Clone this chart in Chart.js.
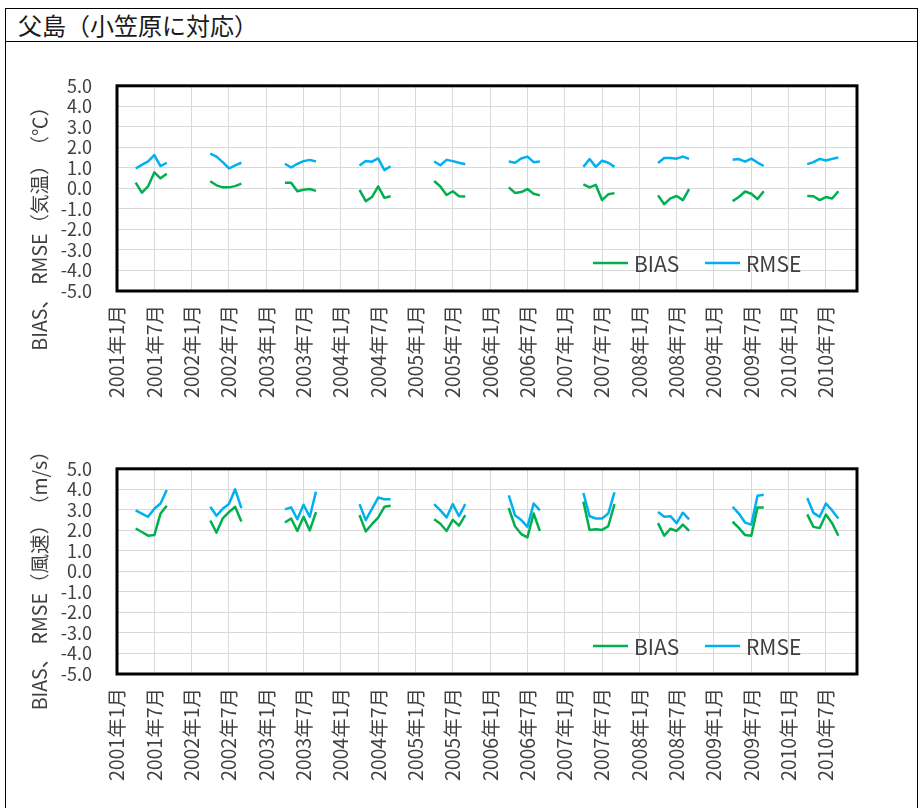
<!DOCTYPE html>
<html lang="ja">
<head>
<meta charset="utf-8">
<title>父島（小笠原に対応）</title>
<script src="https://cdn.jsdelivr.net/npm/chart.js@4.4.1/dist/chart.umd.min.js"></script>
<style>
  html, body { margin: 0; padding: 0; background: #fff; }
  body { width: 920px; height: 808px; position: relative; overflow: hidden; font-family: "Noto Sans CJK JP", sans-serif; }
  #frame { position: absolute; left: 5px; top: 8px; width: 913px; height: 840px; border: 1.5px solid #000; box-sizing: border-box; }
  #title { position: absolute; left: 5px; top: 8px; width: 913px; height: 34px; border-bottom: 1.5px solid #000; box-sizing: border-box;
           padding-left: 13px; font-size: 24px; line-height: 34px; color: #1a1a1a; }
  .panel { position: absolute; left: 0; }
  #p1 { top: 50px; }
  #p2 { top: 433px; }
</style>
</head>
<body>
<div id="frame"></div>
<div id="title">父島（小笠原に対応）</div>
<div class="panel" id="p1"><canvas id="c1" width="920" height="375"></canvas></div>
<div class="panel" id="p2"><canvas id="c2" width="920" height="375"></canvas></div>

<script>
// 各年とも4月〜9月の月別値
const years = [2001, 2002, 2003, 2004, 2005, 2006, 2007, 2008, 2009, 2010];
const months = [1, 2, 3, 4, 5, 6, 7, 8, 9, 10, 11, 12];
const dataMonths = [4, 5, 6, 7, 8, 9];
const yTicks = [-5, -4, -3, -2, -1, 0, 1, 2, 3, 4, 5];

// 気温
const tempBias = [
    [0.28, -0.21, 0.10, 0.78, 0.49, 0.71],
    [0.35, 0.15, 0.05, 0.05, 0.11, 0.23],
    [0.28, 0.28, -0.14, -0.07, -0.03, -0.12],
    [-0.07, -0.62, -0.42, 0.10, -0.46, -0.38],
    [0.36, 0.09, -0.32, -0.14, -0.38, -0.39],
    [0.05, -0.22, -0.18, -0.03, -0.26, -0.34],
    [0.20, 0.05, 0.17, -0.57, -0.29, -0.23],
    [-0.34, -0.77, -0.49, -0.37, -0.57, -0.03],
    [-0.62, -0.42, -0.15, -0.26, -0.52, -0.14],
    [-0.37, -0.38, -0.57, -0.42, -0.49, -0.14]
];
const tempRmse = [
    [0.97, 1.15, 1.32, 1.62, 1.09, 1.25],
    [1.69, 1.55, 1.28, 0.97, 1.12, 1.25],
    [1.20, 1.02, 1.20, 1.33, 1.39, 1.31],
    [1.12, 1.34, 1.30, 1.46, 0.89, 1.08],
    [1.31, 1.13, 1.39, 1.33, 1.25, 1.18],
    [1.31, 1.25, 1.46, 1.55, 1.28, 1.31],
    [1.05, 1.43, 1.05, 1.35, 1.25, 1.05],
    [1.24, 1.48, 1.48, 1.45, 1.55, 1.44],
    [1.40, 1.43, 1.30, 1.45, 1.26, 1.09],
    [1.18, 1.28, 1.44, 1.36, 1.44, 1.51]
];

// 風速
const windBias = [
    [2.09, 1.92, 1.74, 1.77, 2.82, 3.20],
    [2.48, 1.89, 2.58, 2.89, 3.15, 2.43],
    [2.38, 2.58, 1.97, 2.66, 2.00, 2.89],
    [2.74, 1.95, 2.30, 2.62, 3.15, 3.20],
    [2.54, 2.32, 1.97, 2.51, 2.23, 2.74],
    [3.09, 2.20, 1.82, 1.66, 2.82, 1.97],
    [3.40, 2.02, 2.05, 2.02, 2.20, 3.28],
    [2.35, 1.74, 2.08, 1.97, 2.28, 1.97],
    [2.42, 2.12, 1.77, 1.74, 3.12, 3.12],
    [2.78, 2.17, 2.11, 2.77, 2.35, 1.74]
];
const windRmse = [
    [2.97, 2.82, 2.66, 3.05, 3.31, 3.97],
    [3.15, 2.71, 3.05, 3.28, 4.00, 3.08],
    [3.02, 3.12, 2.54, 3.25, 2.66, 3.89],
    [3.28, 2.50, 3.05, 3.60, 3.52, 3.52],
    [3.28, 2.97, 2.63, 3.28, 2.69, 3.28],
    [3.71, 2.74, 2.51, 2.17, 3.31, 2.97],
    [3.82, 2.69, 2.58, 2.58, 2.82, 3.85],
    [2.89, 2.66, 2.69, 2.35, 2.86, 2.54],
    [3.15, 2.82, 2.38, 2.28, 3.69, 3.74],
    [3.58, 2.85, 2.66, 3.31, 2.97, 2.58]
];

const labels = [];
years.forEach(y => months.forEach(m => labels.push(y + '年' + m + '月')));

// 月別の配列に展開（データの無い月は null）
function toSeries(perYear) {
    const out = [];
    years.forEach((y, i) => months.forEach(m => {
        const k = dataMonths.indexOf(m);
        out.push(k < 0 ? null : perYear[i][k]);
    }));
    return out;
}

const FONT = '"Noto Sans CJK JP", "Noto Sans", sans-serif';
const TEXT = '#404040';

const plotFrame = {
    id: 'plotFrame',
    afterDraw(chart) {
        const a = chart.chartArea, ctx = chart.ctx;
        ctx.save();
        ctx.strokeStyle = '#000';
        ctx.lineWidth = 3;
        ctx.strokeRect(a.left, a.top, a.right - a.left, a.bottom - a.top);
        ctx.restore();
    }
};

const yTitle = {
    id: 'yTitle',
    afterDraw(chart, args, opts) {
        const ctx = chart.ctx;
        ctx.save();
        ctx.translate(40, chart.chartArea.top + opts.offset);
        ctx.rotate(-Math.PI / 2);
        ctx.font = '19.5px ' + FONT;
        ctx.fillStyle = TEXT;
        ctx.textAlign = 'center';
        ctx.textBaseline = 'middle';
        ctx.fillText(opts.text, 0, 0);
        ctx.restore();
    }
};

const innerLegend = {
    id: 'innerLegend',
    afterDraw(chart) {
        const a = chart.chartArea, ctx = chart.ctx;
        const y = a.bottom - 28;
        const starts = [a.right - 264, a.right - 152];
        ctx.save();
        ctx.font = '21px ' + FONT;
        ctx.textBaseline = 'middle';
        chart.data.datasets.forEach((ds, i) => {
            const x = starts[i];
            ctx.strokeStyle = ds.borderColor;
            ctx.lineWidth = 2.5;
            ctx.beginPath();
            ctx.moveTo(x, y);
            ctx.lineTo(x + 35, y);
            ctx.stroke();
            ctx.fillStyle = TEXT;
            ctx.fillText(ds.label, x + 41, y + 1);
        });
        ctx.restore();
    }
};

function makeChart(id, bias, rmse, title, offset) {
    return new Chart(document.getElementById(id), {
        type: 'line',
        data: {
            labels: labels,
            datasets: [
                { label: 'BIAS', data: toSeries(bias), borderColor: '#00B050' },
                { label: 'RMSE', data: toSeries(rmse), borderColor: '#00B0F0' }
            ]
        },
        options: {
            responsive: false,
            animation: false,
            spanGaps: false,
            layout: { padding: { top: 25, right: 63, left: 0, bottom: 0 } },
            elements: {
                point: { radius: 0 },
                line: { borderWidth: 2.5, tension: 0, borderJoinStyle: 'round' }
            },
            plugins: {
                legend: { display: false },
                tooltip: { enabled: false },
                yTitle: { text: title, offset: offset }
            },
            scales: {
                x: {
                    type: 'category',
                    offset: false,
                    border: { display: false },
                    grid: {
                        drawTicks: false,
                        lineWidth: 1,
                        color: c => c.index % 6 === 0 ? '#d9d9d9' : 'rgba(0,0,0,0)'
                    },
                    ticks: {
                        autoSkip: false,
                        minRotation: 90,
                        maxRotation: 90,
                        padding: 14,
                        color: TEXT,
                        font: { family: FONT, size: 19.5 },
                        callback: (v, i) => i % 6 === 0 ? labels[i] : ''
                    },
                    afterFit: s => { s.height = 134; }
                },
                y: {
                    min: yTicks[0],
                    max: yTicks[yTicks.length - 1],
                    border: { display: false },
                    grid: { drawTicks: false, color: '#d9d9d9', lineWidth: 1 },
                    afterBuildTicks: s => { s.ticks = yTicks.map(v => ({ value: v })); },
                    ticks: {
                        autoSkip: false,
                        padding: 25,
                        color: TEXT,
                        font: { family: FONT, size: 18 },
                        callback: v => Number(v).toFixed(1)
                    },
                    afterFit: s => { s.width = 117; }
                }
            }
        },
        plugins: [plotFrame, yTitle, innerLegend]
    });
}

makeChart('c1', tempBias, tempRmse, 'BIAS、 RMSE（気温）　（℃）', 138);
makeChart('c2', windBias, windRmse, 'BIAS、 RMSE（風速）　（m/s）', 107);
</script>
</body>
</html>
